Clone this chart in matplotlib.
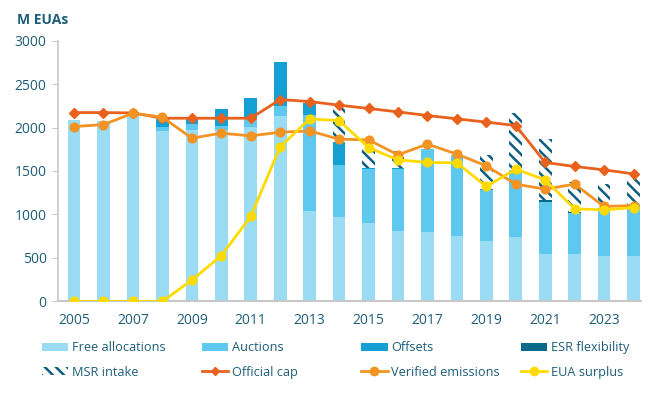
import matplotlib
matplotlib.use("Agg")
import matplotlib.pyplot as plt
import numpy as np
from matplotlib.patches import Patch
from matplotlib.lines import Line2D

years = list(range(2005, 2025))
free_alloc = [2088, 2080, 2184, 1961, 1973, 1975, 2010, 2134, 1042, 969, 900, 815, 804, 758, 690, 739, 547, 547, 528, 517]
auctions = [0, 0, 0, 50, 69, 40, 95, 115, 1103, 602, 620, 705, 951, 928, 593, 774, 602, 468, 525, 604]
offsets = [0, 0, 0, 84, 84, 195, 240, 500, 135, 268, 20, 15, 0, 0, 10, 0, 0, 0, 0, 0]
esr_flex = [0, 0, 0, 0, 0, 0, 0, 0, 0, 0, 0, 0, 0, 0, 0, 0, 20, 15, 10, 5]
msr_intake = [0, 0, 0, 0, 0, 0, 0, 0, 0, 395, 280, 190, 0, 0, 395, 650, 697, 338, 288, 280]
official_cap = [2172, 2172, 2168, 2107, 2107, 2107, 2107, 2322, 2299, 2257, 2219, 2180, 2138, 2100, 2062, 2023, 1598, 1552, 1513, 1467]
verified = [2011, 2034, 2164, 2120, 1877, 1935, 1904, 1946, 1961, 1866, 1858, 1686, 1809, 1694, 1559, 1349, 1291, 1349, 1092, 1103]
surplus = [0, 0, 0, 0, 245, 525, 977, 1778, 2099, 2080, 1770, 1628, 1598, 1594, 1322, 1521, 1398, 1065, 1053, 1080]
tick_years = list(range(2005, 2024, 2))

plt.rcParams['font.family'] = ['Open Sans', 'DejaVu Sans']
plt.rcParams['hatch.linewidth'] = 1.8

C_FREE = '#9ADCF4'
C_AUC = '#5EC8EE'
C_OFF = '#14A0D3'
C_ESR = '#0A6A88'
C_MSR = '#0E5E80'
C_CAP = '#E8621E'
C_VER = '#F39324'
C_SUR = '#FFDA00'
C_TXT = '#1D5E78'
HATCH = '\\\\\\'

fig = plt.figure(figsize=(6.5, 3.94), dpi=100)
ax = fig.add_axes([0.089, 0.235, 0.897, 0.662])

x = np.array(years)
w = 0.43
b = np.zeros(len(years))
ax.bar(x, free_alloc, w, bottom=b, color=C_FREE, zorder=2)
b += np.array(free_alloc)
ax.bar(x, auctions, w, bottom=b, color=C_AUC, zorder=2)
b += np.array(auctions)
ax.bar(x, offsets, w, bottom=b, color=C_OFF, zorder=2)
b += np.array(offsets)
ax.bar(x, esr_flex, w, bottom=b, color=C_ESR, zorder=2)
b += np.array(esr_flex)
ax.bar(x, msr_intake, w, bottom=b, color='white', edgecolor=C_MSR, hatch=HATCH, linewidth=0, zorder=2)

ax.plot(x, official_cap, color=C_CAP, lw=2, marker='D', ms=5.5, zorder=4)
ax.plot(x, verified, color=C_VER, lw=2, marker='o', ms=6.3, zorder=5)
ax.plot(x, surplus, color=C_SUR, lw=2, marker='o', ms=6.3, zorder=6)

ax.set_xlim(2004.45, 2024.25)
ax.set_ylim(0, 3000)
ax.set_yticks(range(0, 3001, 500))
ax.set_xticks(tick_years)
ax.tick_params(axis='x', length=0, pad=8, labelsize=10, labelcolor=C_TXT)
ax.tick_params(axis='y', length=4, color='#c8c8c8', labelsize=10, labelcolor=C_TXT, pad=4)
for s in ['top', 'right']:
    ax.spines[s].set_visible(False)
ax.spines['left'].set_color('#c8c8c8')
ax.spines['bottom'].set_color('#c8c8c8')
ax.spines['left'].set_linewidth(1.2)
ax.spines['bottom'].set_linewidth(1.5)

fig.text(0.026, 0.948, 'M EUAs', fontsize=10, fontweight='bold', color=C_TXT, va='center', ha='left')

h_free = Patch(facecolor=C_FREE, label='Free allocations')
h_auc = Patch(facecolor=C_AUC, label='Auctions')
h_off = Patch(facecolor=C_OFF, label='Offsets')
h_esr = Patch(facecolor=C_ESR, label='ESR flexibility')
h_msr = Patch(facecolor='white', edgecolor=C_MSR, hatch=HATCH, linewidth=0, label='MSR intake')
h_cap = Line2D([], [], color=C_CAP, lw=2, marker='D', ms=4, label='Official cap')
h_ver = Line2D([], [], color=C_VER, lw=2, marker='o', ms=6, label='Verified emissions')
h_sur = Line2D([], [], color=C_SUR, lw=2, marker='o', ms=6, label='EUA surplus')
columns = [[h_free, h_msr], [h_auc, h_cap], [h_off, h_ver], [h_esr, h_sur]]
col_x = [0.064, 0.310, 0.556, 0.802]
for cx, hs in zip(col_x, columns):
    leg = fig.legend(handles=hs, ncol=1, loc='upper left', bbox_to_anchor=(cx, 0.134),
                     frameon=False, fontsize=9.2, handlelength=2.05, handleheight=0.62,
                     handletextpad=0.3, labelspacing=0.9, borderaxespad=0, borderpad=0)
    for t in leg.get_texts():
        t.set_color(C_TXT)

fig.savefig('out.png', dpi=100)
